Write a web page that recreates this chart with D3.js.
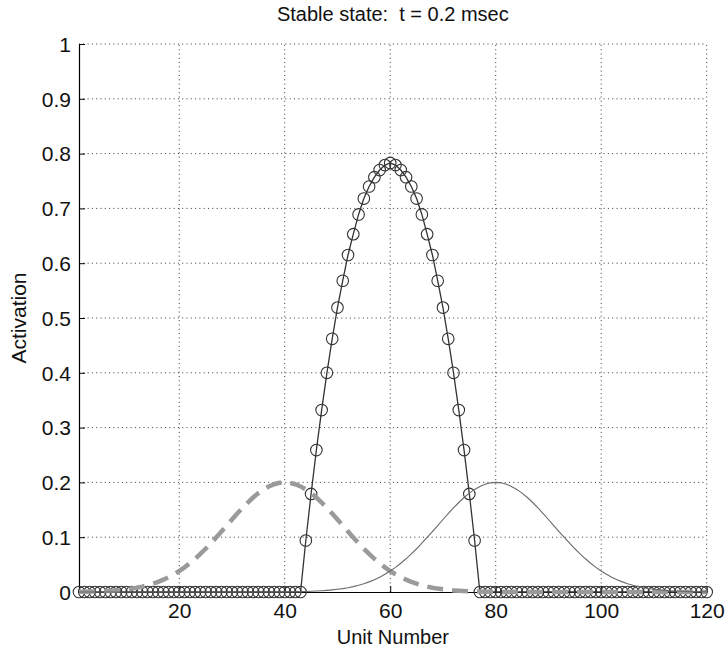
<!DOCTYPE html>
<html>
<head>
<meta charset="utf-8">
<script src="https://cdn.jsdelivr.net/npm/d3@7"></script>
<style>
  html, body { margin: 0; padding: 0; background: #fff; }
  text { font-family: "Liberation Sans", Arial, Helvetica, sans-serif; fill: #111; }
</style>
</head>
<body>
<svg id="chart" width="728" height="651"></svg>
<script>
// ---- data ----
const units = d3.range(1, 121); // unit numbers 1..120

// activation of the stable state (line with circle markers)
const activation = [
  0,0,0,0,0,0,0,0,0,0,            // 1-10
  0,0,0,0,0,0,0,0,0,0,            // 11-20
  0,0,0,0,0,0,0,0,0,0,            // 21-30
  0,0,0,0,0,0,0,0,0,0,            // 31-40
  0,0,0,0.094,0.179,0.259,0.332,0.400,0.462,0.519,   // 41-50
  0.568,0.615,0.653,0.689,0.718,0.740,0.757,0.770,0.779,0.783, // 51-60
  0.779,0.770,0.757,0.740,0.718,0.689,0.653,0.615,0.568,0.519, // 61-70
  0.462,0.400,0.332,0.259,0.179,0.094,0,0,0,0,       // 71-80
  0,0,0,0,0,0,0,0,0,0,            // 81-90
  0,0,0,0,0,0,0,0,0,0,            // 91-100
  0,0,0,0,0,0,0,0,0,0,            // 101-110
  0,0,0,0,0,0,0,0,0,0             // 111-120
];

// left input (thick grey dashed curve)
const inputLeft = [
  0.0004,0.0005,0.0007,0.0009,0.0013,0.0017,0.0022,0.0029,0.0038,0.0049, // 1-10
  0.0062,0.0078,0.0098,0.0122,0.0151,0.0185,0.0225,0.0271,0.0323,0.0383, // 11-20
  0.0450,0.0524,0.0606,0.0694,0.0789,0.0890,0.0995,0.1103,0.1213,0.1323, // 21-30
  0.1431,0.1535,0.1633,0.1724,0.1804,0.1872,0.1927,0.1967,0.1992,0.2000, // 31-40
  0.1992,0.1967,0.1927,0.1872,0.1804,0.1724,0.1633,0.1535,0.1431,0.1323, // 41-50
  0.1213,0.1103,0.0995,0.0890,0.0789,0.0694,0.0606,0.0524,0.0450,0.0383, // 51-60
  0.0323,0.0271,0.0225,0.0185,0.0151,0.0122,0.0098,0.0078,0.0062,0.0049, // 61-70
  0.0038,0.0029,0.0022,0.0017,0.0013,0.0009,0.0007,0.0005,0.0004,0.0003, // 71-80
  0.0002,0.0001,0,0,0,0,0,0,0,0,  // 81-90
  0,0,0,0,0,0,0,0,0,0,            // 91-100
  0,0,0,0,0,0,0,0,0,0,            // 101-110
  0,0,0,0,0,0,0,0,0,0             // 111-120
];

// right input (thin grey solid curve)
const inputRight = [
  0,0,0,0,0,0,0,0,0,0,            // 1-10
  0,0,0,0,0,0,0,0,0,0,            // 11-20
  0,0,0,0,0,0,0,0,0,0,            // 21-30
  0,0,0,0,0,0,0,0.0001,0.0002,0.0003, // 31-40
  0.0004,0.0005,0.0007,0.0009,0.0013,0.0017,0.0022,0.0029,0.0038,0.0049, // 41-50
  0.0062,0.0078,0.0098,0.0122,0.0151,0.0185,0.0225,0.0271,0.0323,0.0383, // 51-60
  0.0450,0.0524,0.0606,0.0694,0.0789,0.0890,0.0995,0.1103,0.1213,0.1323, // 61-70
  0.1431,0.1535,0.1633,0.1724,0.1804,0.1872,0.1927,0.1967,0.1992,0.2000, // 71-80
  0.1992,0.1967,0.1927,0.1872,0.1804,0.1724,0.1633,0.1535,0.1431,0.1323, // 81-90
  0.1213,0.1103,0.0995,0.0890,0.0789,0.0694,0.0606,0.0524,0.0450,0.0383, // 91-100
  0.0323,0.0271,0.0225,0.0185,0.0151,0.0122,0.0098,0.0078,0.0062,0.0049, // 101-110
  0.0038,0.0029,0.0022,0.0017,0.0013,0.0009,0.0007,0.0005,0.0004,0.0003  // 111-120
];

const xTicks = [20, 40, 60, 80, 100, 120];
const yTicks = [0, 0.1, 0.2, 0.3, 0.4, 0.5, 0.6, 0.7, 0.8, 0.9, 1];
const yTickLabels = ["0", "0.1", "0.2", "0.3", "0.4", "0.5", "0.6", "0.7", "0.8", "0.9", "1"];

const titleText = "Stable state:  t = 0.2 msec";
const xLabel = "Unit Number";
const yLabel = "Activation";

// ---- layout ----
const svg = d3.select("#chart");
const x = d3.scaleLinear().domain([1, 120]).range([79, 706.7]);
const y = d3.scaleLinear().domain([0, 1]).range([592, 44]);

// grid (dotted)
const grid = svg.append("g").attr("class", "grid");
grid.selectAll("line.gx").data(xTicks).join("line")
  .attr("x1", d => x(d)).attr("x2", d => x(d))
  .attr("y1", y(0)).attr("y2", y(1))
  .attr("stroke", "#222").attr("stroke-width", 0.9)
  .attr("stroke-dasharray", "1,3.3");
grid.selectAll("line.gy").data(yTicks.filter(d => d > 0)).join("line")
  .attr("x1", x(1)).attr("x2", x(120))
  .attr("y1", d => y(d)).attr("y2", d => y(d))
  .attr("stroke", "#222").attr("stroke-width", 0.9)
  .attr("stroke-dasharray", "1,3.3");

// axes
const xAxis = d3.axisBottom(x).tickValues(xTicks).tickSizeInner(-6).tickSizeOuter(0).tickPadding(11);
const yAxis = d3.axisLeft(y).tickValues(yTicks).tickFormat((d, i) => yTickLabels[i]).tickSizeInner(-6).tickSizeOuter(0).tickPadding(8);

const gx = svg.append("g").attr("transform", `translate(0,${y(0)})`).call(xAxis);
const gy = svg.append("g").attr("transform", `translate(${x(1)},0)`).call(yAxis);
[gx, gy].forEach(g => {
  g.select(".domain").attr("stroke", "#000").attr("stroke-width", 1.2);
  g.selectAll(".tick line").attr("stroke", "#000").attr("stroke-width", 1);
  g.selectAll(".tick text").attr("font-size", 21).attr("fill", "#111")
    .style("font-family", "'Liberation Sans', Arial, sans-serif");
});
gy.selectAll(".tick text").attr("dy", "0.35em");

// main activation line + circles
const line = d3.line().x((d, i) => x(units[i])).y(d => y(d));
svg.append("path").datum(activation)
  .attr("d", line).attr("fill", "none")
  .attr("stroke", "#333").attr("stroke-width", 1.3);
svg.append("g").selectAll("circle").data(activation).join("circle")
  .attr("cx", (d, i) => x(units[i])).attr("cy", d => y(d))
  .attr("r", 5.8).attr("fill", "none")
  .attr("stroke", "#333").attr("stroke-width", 1.1);

// thick grey dashed input
svg.append("path").datum(inputLeft)
  .attr("d", line).attr("fill", "none")
  .attr("stroke", "#9a9a9a").attr("stroke-width", 4.5)
  .attr("stroke-dasharray", "16,9");

// thin grey solid input
svg.append("path").datum(inputRight)
  .attr("d", line).attr("fill", "none")
  .attr("stroke", "#6a6a6a").attr("stroke-width", 1.1);

// title and labels
svg.append("text").attr("x", (x(1) + x(120)) / 2).attr("y", 21)
  .attr("text-anchor", "middle").attr("font-size", 20)
  .attr("xml:space", "preserve").style("white-space", "pre")
  .text(titleText);
svg.append("text").attr("x", (x(1) + x(120)) / 2).attr("y", 644)
  .attr("text-anchor", "middle").attr("font-size", 20).text(xLabel);
svg.append("text")
  .attr("transform", `translate(26,${(y(0) + y(1)) / 2}) rotate(-90)`)
  .attr("text-anchor", "middle").attr("font-size", 21).text(yLabel);
</script>
</body>
</html>
